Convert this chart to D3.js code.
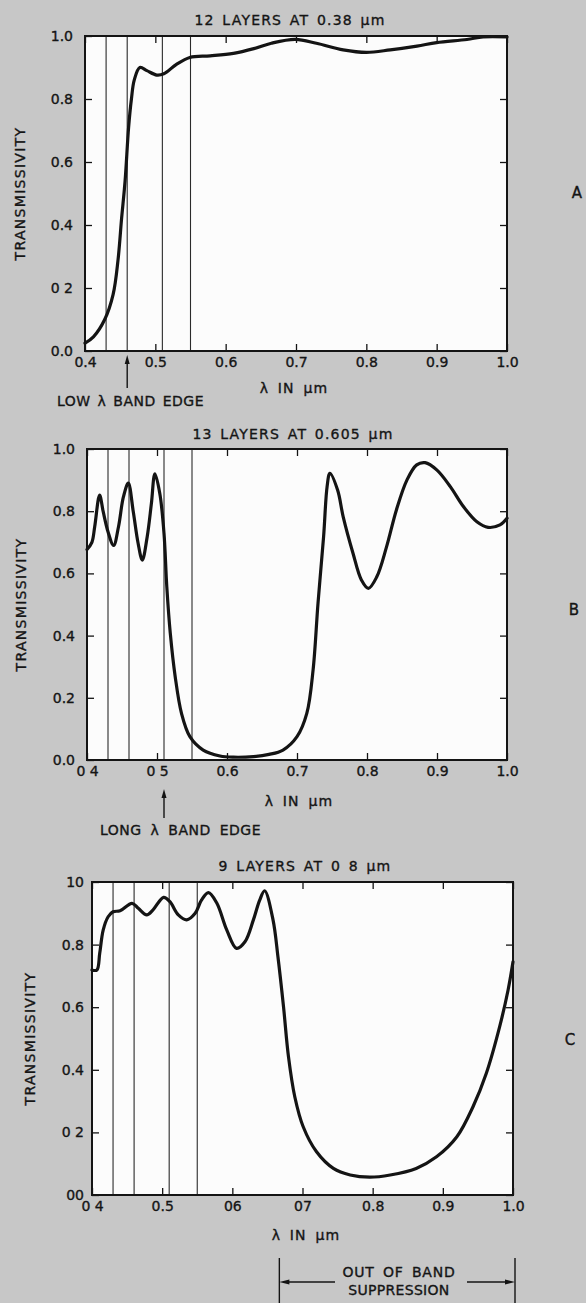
<!DOCTYPE html>
<html>
<head>
<meta charset="utf-8">
<script src="https://cdn.jsdelivr.net/npm/d3@7"></script>
<style>
  html, body { margin: 0; padding: 0; background: #c7c7c7; }
  svg { display: block; }
  text { font-family: "DejaVu Sans", "Liberation Sans", Arial, sans-serif; fill: #151515;
         stroke: #151515; stroke-width: 0.35px; }
</style>
</head>
<body>
<svg id="fig" width="586" height="1303"></svg>
<script>
// ---- Transmissivity curves (wavelength in µm, transmissivity 0..1) ----
const lambdaA = [0.400, 0.412, 0.428, 0.440, 0.447, 0.452, 0.457, 0.462, 0.466, 0.470,
                 0.478, 0.488, 0.502, 0.512, 0.530, 0.549, 0.578, 0.611, 0.640, 0.665,
                 0.699, 0.729, 0.767, 0.800, 0.834, 0.872, 0.900, 0.943, 0.966, 1.000];
const transA  = [0.025, 0.045, 0.10, 0.18, 0.29, 0.42, 0.54, 0.71, 0.80, 0.86,
                 0.90, 0.89, 0.876, 0.88, 0.91, 0.932, 0.937, 0.945, 0.960, 0.977,
                 0.989, 0.977, 0.956, 0.948, 0.956, 0.968, 0.979, 0.989, 0.997, 0.997];

const lambdaB = [0.400, 0.407, 0.411, 0.418, 0.423, 0.430, 0.438, 0.445, 0.452, 0.459,
                 0.466, 0.473, 0.479, 0.486, 0.492, 0.497, 0.504, 0.510, 0.514, 0.519,
                 0.526, 0.535, 0.547, 0.566, 0.590, 0.609, 0.638, 0.660, 0.680, 0.700,
                 0.714, 0.723, 0.730, 0.738, 0.743, 0.747, 0.758, 0.766, 0.780, 0.792,
                 0.802, 0.814, 0.828, 0.842, 0.857, 0.871, 0.883, 0.900, 0.919, 0.938,
                 0.957, 0.973, 0.990, 1.000];
const transB  = [0.677, 0.70, 0.75, 0.852, 0.80, 0.734, 0.69, 0.75, 0.846, 0.89,
                 0.80, 0.697, 0.643, 0.718, 0.825, 0.92, 0.857, 0.729, 0.557, 0.407,
                 0.268, 0.15, 0.075, 0.032, 0.013, 0.009, 0.011, 0.018, 0.032, 0.075,
                 0.15, 0.29, 0.504, 0.718, 0.879, 0.922, 0.868, 0.782, 0.665, 0.579,
                 0.552, 0.589, 0.686, 0.804, 0.90, 0.949, 0.956, 0.932, 0.879, 0.814,
                 0.766, 0.748, 0.756, 0.777];

const lambdaC = [0.400, 0.407, 0.411, 0.416, 0.423, 0.430, 0.440, 0.457, 0.466, 0.478,
                 0.487, 0.502, 0.511, 0.523, 0.535, 0.547, 0.556, 0.566, 0.578, 0.592,
                 0.606, 0.618, 0.630, 0.639, 0.646, 0.658, 0.665, 0.673, 0.680, 0.689,
                 0.701, 0.720, 0.744, 0.768, 0.796, 0.825, 0.862, 0.891, 0.920, 0.943,
                 0.962, 0.981, 0.993, 1.000];
const transC  = [0.719, 0.719, 0.772, 0.847, 0.889, 0.905, 0.908, 0.932, 0.916, 0.895,
                 0.911, 0.951, 0.937, 0.895, 0.879, 0.90, 0.942, 0.966, 0.932, 0.847,
                 0.788, 0.809, 0.879, 0.942, 0.972, 0.879, 0.761, 0.60, 0.442, 0.314,
                 0.218, 0.138, 0.085, 0.064, 0.057, 0.064, 0.085, 0.122, 0.186, 0.282,
                 0.389, 0.538, 0.655, 0.745];

// Colour-band boundaries drawn as thin verticals (µm)
const bandEdges = [0.43, 0.46, 0.51, 0.55];

// Tick positions and their printed labels
const xTicks = [0.4, 0.5, 0.6, 0.7, 0.8, 0.9, 1.0];
const yTicks = [0.0, 0.2, 0.4, 0.6, 0.8, 1.0];
const xTickLabelsA = ["0.4", "0.5", "0.6", "0.7", "0.8", "0.9", "1.0"];
const yTickLabelsA = ["0.0", "0 2", "0.4", "0.6", "0.8", "1.0"];
const xTickLabelsB = ["0 4", "0 5", "0.6", "0.7", "0.8", "0.9", "1.0"];
const yTickLabelsB = ["0.0", "0.2", "0.4", "0.6", "0.8", "1.0"];
const xTickLabelsC = ["0 4", "0.5", "06", "07", "0.8", "0.9", "1.0"];
const yTickLabelsC = ["00", "0 2", "0.4", "0.6", "0.8", "10"];

const titles = ["12 LAYERS AT 0.38 \u03bcm", "13 LAYERS AT 0.605 \u03bcm", "9 LAYERS AT 0 8 \u03bcm"];
const panelTags = ["A", "B", "C"];
const bandEdgeNotes = ["LOW \u03bb BAND EDGE", "LONG \u03bb BAND EDGE"];
const bandEdgeAt = [0.46, 0.51];
const suppressionRange = [0.667, 1.0];

// ---- Layout ----
const svg = d3.select("#fig");
svg.append("rect").attr("width", 586).attr("height", 1303).attr("fill", "#c7c7c7");

const ink = "#141414";
const FS = 14;
const FONT = "DejaVu Sans, Liberation Sans, Arial, sans-serif";

const panels = [
  { lambda: lambdaA, trans: transA, xl: xTickLabelsA, yl: yTickLabelsA,
    box: { l: 85, r: 507, t: 36, b: 351 }, titleX: 290, titleY: 25,
    xTitle: [294, 393], yTitleX: 20, tag: [577, 193] },
  { lambda: lambdaB, trans: transB, xl: xTickLabelsB, yl: yTickLabelsB,
    box: { l: 87, r: 507, t: 449, b: 760 }, titleX: 293, titleY: 439,
    xTitle: [299, 806], yTitleX: 21, tag: [574, 610] },
  { lambda: lambdaC, trans: transC, xl: xTickLabelsC, yl: yTickLabelsC,
    box: { l: 92, r: 513, t: 882, b: 1195 }, titleX: 305, titleY: 871,
    xTitle: [306, 1240], yTitleX: 30, tag: [570, 1040] }
];

function styleAxis(g) {
  g.select(".domain").remove();
  g.selectAll(".tick line").attr("stroke", ink).attr("stroke-width", 1.3);
  g.selectAll(".tick text")
    .attr("fill", ink)
    .attr("font-size", FS)
    .attr("font-family", FONT);
}

const scales = [];

panels.forEach((p, i) => {
  const { l, r, t, b } = p.box;
  const x = d3.scaleLinear().domain([0.4, 1.0]).range([l, r]);
  const y = d3.scaleLinear().domain([0, 1]).range([b, t]);
  scales.push(x);
  const g = svg.append("g");

  // plot area
  g.append("rect").attr("x", l).attr("y", t).attr("width", r - l).attr("height", b - t)
    .attr("fill", "#fcfcfc");

  // colour band boundaries
  g.selectAll("line.band").data(bandEdges).join("line")
    .attr("class", "band")
    .attr("x1", d => x(d)).attr("x2", d => x(d))
    .attr("y1", t).attr("y2", b)
    .attr("stroke", "#2a2a2a").attr("stroke-width", 1.1);

  // axes with inward ticks on all four sides
  g.append("g").attr("transform", `translate(0,${b})`)
    .call(d3.axisBottom(x).tickValues(xTicks).tickFormat((d, k) => p.xl[k])
      .tickSizeInner(-7).tickSizeOuter(0).tickPadding(6))
    .call(styleAxis);
  g.append("g").attr("transform", `translate(0,${t})`)
    .call(d3.axisTop(x).tickValues(xTicks).tickFormat("").tickSizeInner(-7).tickSizeOuter(0))
    .call(styleAxis);
  g.append("g").attr("transform", `translate(${l},0)`)
    .call(d3.axisLeft(y).tickValues(yTicks).tickFormat((d, k) => p.yl[k])
      .tickSizeInner(-7).tickSizeOuter(0).tickPadding(i === 2 ? 8 : 12))
    .call(styleAxis);
  g.append("g").attr("transform", `translate(${r},0)`)
    .call(d3.axisRight(y).tickValues(yTicks).tickFormat("").tickSizeInner(-7).tickSizeOuter(0))
    .call(styleAxis);

  // frame
  g.append("rect").attr("x", l).attr("y", t).attr("width", r - l).attr("height", b - t)
    .attr("fill", "none").attr("stroke", ink).attr("stroke-width", 2);

  // transmissivity curve
  const pts = p.lambda.map((d, k) => [d, p.trans[k]]);
  const line = d3.line().x(d => x(d[0])).y(d => y(d[1])).curve(d3.curveCatmullRom.alpha(0.5));
  g.append("path").datum(pts).attr("d", line)
    .attr("fill", "none").attr("stroke", ink).attr("stroke-width", 3.2)
    .attr("stroke-linejoin", "round").attr("stroke-linecap", "round");

  // titles and axis labels
  g.append("text").attr("x", p.titleX).attr("y", p.titleY).attr("text-anchor", "middle")
    .attr("font-size", FS).attr("letter-spacing", 1.2).attr("word-spacing", 2)
    .text(titles[i]);
  g.append("text").attr("x", p.xTitle[0]).attr("y", p.xTitle[1]).attr("text-anchor", "middle")
    .attr("font-size", FS).attr("letter-spacing", 1.2).attr("word-spacing", 3)
    .text("\u03bb IN \u03bcm");
  g.append("text")
    .attr("transform", `translate(${p.yTitleX},${(t + b) / 2}) rotate(-90)`)
    .attr("text-anchor", "middle").attr("dy", "0.36em")
    .attr("font-size", FS).attr("letter-spacing", 1.3)
    .text("TRANSMISSIVITY");
  g.append("text").attr("x", p.tag[0]).attr("y", p.tag[1]).attr("text-anchor", "middle")
    .attr("dy", "0.36em").attr("font-size", 15).text(panelTags[i]);
});

// ---- Band-edge pointers under panels A and B ----
function upArrow(xPos, yHead, yTail) {
  svg.append("line").attr("x1", xPos).attr("x2", xPos).attr("y1", yHead + 4).attr("y2", yTail)
    .attr("stroke", ink).attr("stroke-width", 1.4);
  svg.append("path")
    .attr("d", `M${xPos},${yHead} L${xPos - 2.5},${yHead + 9} L${xPos + 2.5},${yHead + 9} Z`)
    .attr("fill", ink);
}
upArrow(scales[0](bandEdgeAt[0]), 355, 388);
svg.append("text").attr("x", 57).attr("y", 406).attr("font-size", FS)
  .attr("letter-spacing", 0.5).attr("word-spacing", 2).text(bandEdgeNotes[0]);

upArrow(scales[1](bandEdgeAt[1]), 789, 818);
svg.append("text").attr("x", 100).attr("y", 835).attr("font-size", FS)
  .attr("letter-spacing", 0.5).attr("word-spacing", 4).text(bandEdgeNotes[1]);

// ---- Out-of-band suppression span under panel C ----
const xs0 = scales[2](suppressionRange[0]);
const xs1 = scales[2](suppressionRange[1]) + 2;
const ySpan = 1282;
[xs0, xs1].forEach(xv => {
  svg.append("line").attr("x1", xv).attr("x2", xv).attr("y1", 1258).attr("y2", 1303)
    .attr("stroke", ink).attr("stroke-width", 1.4);
});
svg.append("line").attr("x1", xs0 + 4).attr("x2", 335).attr("y1", ySpan).attr("y2", ySpan)
  .attr("stroke", ink).attr("stroke-width", 1.3);
svg.append("line").attr("x1", 467).attr("x2", xs1 - 4).attr("y1", ySpan).attr("y2", ySpan)
  .attr("stroke", ink).attr("stroke-width", 1.3);
svg.append("path")
  .attr("d", `M${xs0},${ySpan} L${xs0 + 10},${ySpan - 2.5} L${xs0 + 10},${ySpan + 2.5} Z`)
  .attr("fill", ink);
svg.append("path")
  .attr("d", `M${xs1},${ySpan} L${xs1 - 10},${ySpan - 2.5} L${xs1 - 10},${ySpan + 2.5} Z`)
  .attr("fill", ink);
svg.append("text").attr("x", 399).attr("y", 1277).attr("text-anchor", "middle")
  .attr("font-size", FS).attr("letter-spacing", 0.8).attr("word-spacing", 3).text("OUT OF BAND");
svg.append("text").attr("x", 399).attr("y", 1295).attr("text-anchor", "middle")
  .attr("font-size", FS).attr("letter-spacing", 0.3).text("SUPPRESSION");
</script>
</body>
</html>
